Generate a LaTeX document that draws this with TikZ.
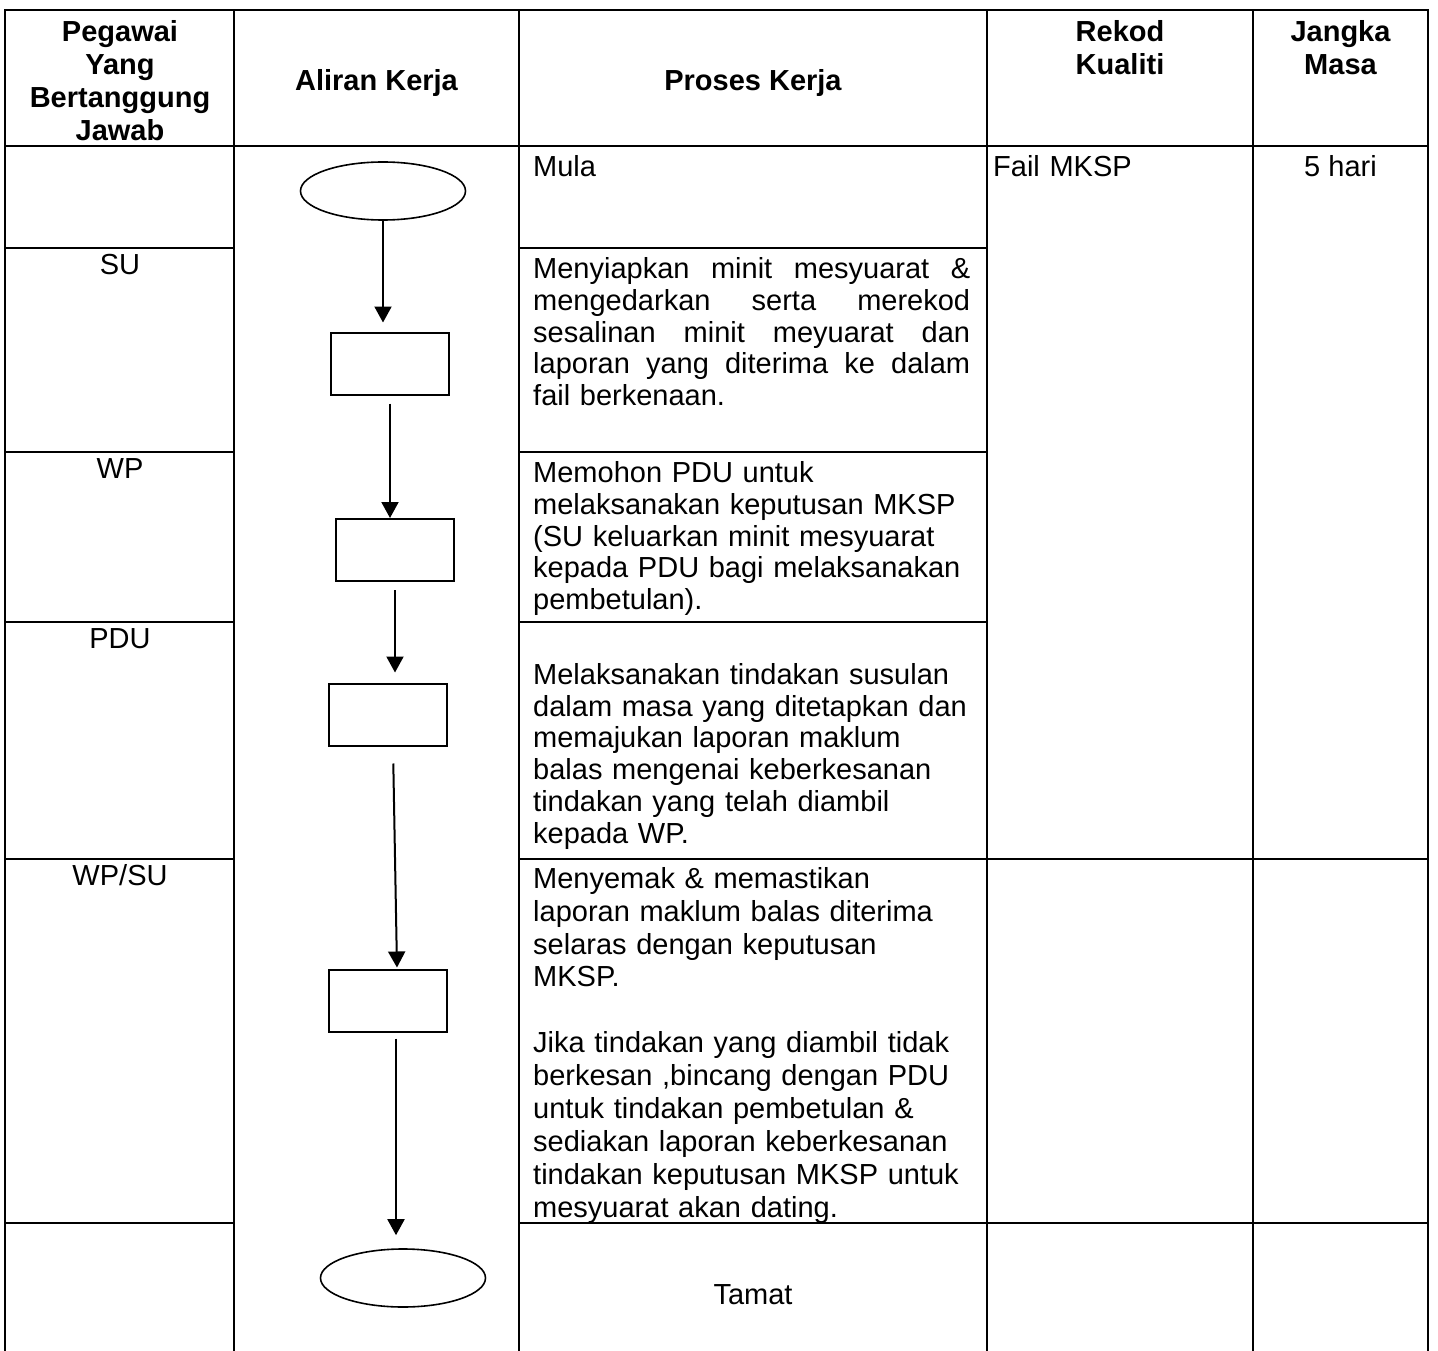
\documentclass[tikz,border=0pt]{standalone}
\usepackage{fontspec}
\setmainfont{Liberation Sans}
\usetikzlibrary{arrows.meta,shapes.geometric}

\newcommand{\isifont}{\fontsize{29}{31.8}\selectfont}
\newcommand{\semakfont}{\fontsize{29}{32.9}\selectfont}
\newcommand{\tajukfont}{\bfseries\fontsize{29}{33}\selectfont}
\newcommand{\jline}[1]{\leavevmode\hbox to 437pt{\spaceskip=.278em plus 1fil\relax #1}}

\begin{document}
\begin{tikzpicture}[
    x=1pt, y=-1pt,
    tabline/.style={line width=2.5pt},
    headtext/.style={font=\tajukfont, align=center, inner sep=0pt},
    celltext/.style={
        font=\isifont,
        align=left,
        inner xsep=0pt,
        inner ysep=8pt,
        anchor=north west,
        text width=437pt
    },
    whotext/.style={font=\isifont, inner xsep=0pt, inner ysep=4pt, anchor=north},
    flowbox/.style={
        draw,
        line width=2pt,
        minimum width=118pt,
        minimum height=62pt,
        inner sep=0pt
    },
    terminal/.style={
        draw,
        ellipse,
        line width=1.6pt,
        minimum width=165pt,
        minimum height=58pt,
        inner sep=0pt
    },
    arrow/.style={
        -{Triangle[length=16pt,width=17pt]},
        line width=2pt
    }
]

\useasboundingbox (0,0) rectangle (1438,1351);

% Table frame and column rules
\draw[tabline] (5,1351) -- (5,10) -- (1428,10) -- (1428,1351);
\foreach \x in {234,519,987,1253}
    \draw[tabline] (\x,10) -- (\x,1351);
\draw[tabline] (5,146) -- (1428,146);

% Row rules (not through the flow column)
\foreach \y in {248,452,622} {
    \draw[tabline] (5,\y) -- (234,\y);
    \draw[tabline] (519,\y) -- (987,\y);
}
\foreach \y in {859,1223} {
    \draw[tabline] (5,\y) -- (234,\y);
    \draw[tabline] (519,\y) -- (1428,\y);
}

% Header
\node[headtext, anchor=north] (hpegawai) at (120,18)
{\strut Pegawai\\Yang\\Bertanggung\\Jawab};
\node[headtext, anchor=base] (haliran) at (376.5,91) {Aliran Kerja};
\node[headtext, anchor=base] (hproses) at (753,91) {Proses Kerja};
\node[headtext, anchor=north] (hrekod) at (1120,18) {\strut Rekod\\Kualiti};
\node[headtext, anchor=north] (hjangka) at (1340.5,18) {\strut Jangka\\Masa};

% Responsible officers
\node[whotext] (su) at (120,248) {\strut SU};
\node[whotext] (wp) at (120,452) {\strut WP};
\node[whotext] (pdu) at (120,622) {\strut PDU};
\node[whotext] (wpsu) at (120,859) {\strut WP/SU};

% Work process
\node[celltext] (mula) at (533,146) {\strut Mula};

\node[celltext] (siap) at (533,248)
{\strut\jline{Menyiapkan minit mesyuarat \&}\\
\jline{mengedarkan serta merekod}\\
\jline{sesalinan minit meyuarat dan}\\
\jline{laporan yang diterima ke dalam}\\
fail berkenaan.};

\node[celltext] (mohon) at (533,452)
{\strut Memohon PDU untuk\\
melaksanakan keputusan MKSP\\
(SU keluarkan minit mesyuarat\\
kepada PDU bagi melaksanakan\\
pembetulan).};

\node[celltext] (laksana) at (533,622)
{\strut\\
Melaksanakan tindakan susulan\\
dalam masa yang ditetapkan dan\\
memajukan laporan maklum\\
balas mengenai keberkesanan\\
tindakan yang telah diambil\\
kepada WP.};

\node[celltext, font=\semakfont, inner ysep=6pt] (semak) at (533,859)
{\strut Menyemak \& memastikan\\
laporan maklum balas diterima\\
selaras dengan keputusan\\
MKSP.\\
\strut\\
Jika tindakan yang diambil tidak\\
berkesan ,bincang dengan PDU\\
untuk tindakan pembetulan \&\\
sediakan laporan keberkesanan\\
tindakan keputusan MKSP untuk\\
mesyuarat akan dating.};

\node[font=\isifont, inner sep=0pt, anchor=base] (tamat) at (753,1304) {Tamat};

% Quality record and time frame
\node[celltext, text width=250pt] (fail) at (993,146) {\strut Fail MKSP};
\node[whotext, inner ysep=8pt] (hari) at (1340.5,146) {\strut 5 hari};

% Work flow
\node[terminal] (start) at (383,191) {};
\node[flowbox] (b1) at (390,363.5) {};
\node[flowbox] (b2) at (395,550) {};
\node[flowbox] (b3) at (388,714.5) {};
\node[flowbox] (b4) at (388,1000.5) {};
\node[terminal] (stop) at (403,1278) {};

\draw[arrow, shorten >=9pt] (start.south) -- (start.south |- b1.north);
\draw[arrow, shorten <=8pt] (b1.south) -- (b1.south |- b2.north);
\draw[arrow, shorten <=8pt, shorten >=10pt] (b2.south) -- (b2.south |- b3.north);
\draw[arrow, shorten <=17pt, shorten >=1pt] ([xshift=5pt]b3.south) -- ([xshift=9pt]b4.north);
\draw[arrow, shorten <=6pt, shorten >=13pt] ([xshift=8pt]b4.south) -- ([xshift=8pt]b4.south |- stop.north);

\end{tikzpicture}
\end{document}
